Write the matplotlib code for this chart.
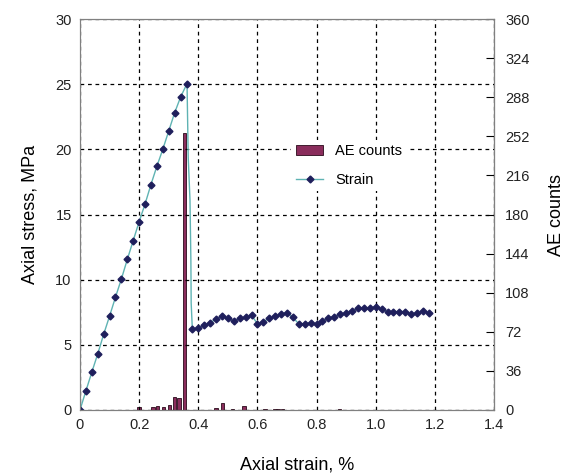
import matplotlib.pyplot as plt
import numpy as np

plt.rcParams['font.family'] = ['Liberation Sans', 'DejaVu Sans']

# stress-strain curve (markers)
strain_load = [0.0, 0.02, 0.04, 0.06, 0.08, 0.10, 0.12, 0.14, 0.16, 0.18,
               0.20, 0.22, 0.24, 0.26, 0.28, 0.30, 0.32, 0.34, 0.362]
stress_load = [0.0, 1.46, 2.9, 4.3, 5.8, 7.2, 8.65, 10.05, 11.55, 13.0,
               14.45, 15.8, 17.3, 18.7, 20.0, 21.4, 22.8, 24.0, 25.05]

# steep drop after the peak (line only, no markers)
strain_drop = [0.366, 0.372, 0.375, 0.376]
stress_drop = [19.4, 16.1, 11.5, 8.2]

strain_post = [0.38, 0.40, 0.42, 0.44, 0.46, 0.48, 0.50, 0.52, 0.54, 0.56,
               0.58, 0.60, 0.62, 0.64, 0.66, 0.68, 0.70, 0.72, 0.74, 0.76,
               0.78, 0.80, 0.82, 0.84, 0.86, 0.88, 0.90, 0.92, 0.94, 0.96,
               0.98, 1.00, 1.02, 1.04, 1.06, 1.08, 1.10, 1.12, 1.14, 1.16,
               1.18]
stress_post = [6.19, 6.27, 6.52, 6.7, 6.96, 7.21, 7.03, 6.83, 7.03, 7.11,
               7.29, 6.6, 6.78, 7.03, 7.21, 7.37, 7.47, 7.11, 6.6, 6.62,
               6.7, 6.57, 6.85, 7.07, 7.16, 7.34, 7.47, 7.62, 7.8, 7.8,
               7.8, 7.93, 7.73, 7.55, 7.55, 7.55, 7.55, 7.37, 7.45, 7.58,
               7.47]

# acoustic emission counts
ae_strain = [0.200, 0.246, 0.262, 0.282, 0.302, 0.319, 0.334, 0.353,
             0.460, 0.482, 0.515, 0.555, 0.626, 0.660, 0.670, 0.685, 0.877]
ae_counts = [3, 2.5, 3.7, 2.5, 4.6, 12.3, 10.8, 255,
             2, 6, 1, 3.7, 1, 1, 1, 1, 1]

strain_all = strain_load + strain_drop + strain_post
stress_all = stress_load + stress_drop + stress_post
n_load = len(strain_load)
n_drop = len(strain_drop)
mark_idx = list(range(n_load)) + list(range(n_load + n_drop, len(strain_all)))

fig = plt.figure(figsize=(5.66, 4.76), dpi=100)
ax1 = fig.add_axes([0.1413, 0.1387, 0.7315, 0.8213])
ax2 = ax1.twinx()

bars = ax2.bar(ae_strain, ae_counts, width=0.012, color='#8a2d5c',
               edgecolor='#2a0a1a', linewidth=0.6, label='AE counts')
line, = ax1.plot(strain_all, stress_all, color='#5fb3b3', lw=1.0,
                 marker='D', ms=3.5, mfc='#1f1f5c', mec='#1f1f5c',
                 markevery=mark_idx, label='Strain')

ax1.set_zorder(ax2.get_zorder() + 1)
ax1.patch.set_visible(False)

ax1.set_xlim(0, 1.4)
ax1.set_ylim(0, 30)
ax2.set_ylim(0, 360)
ax1.set_xticks(np.arange(0, 1.41, 0.2))
ax1.set_xticklabels(['0', '0.2', '0.4', '0.6', '0.8', '1.0', '1.2', '1.4'])
ax1.set_yticks(np.arange(0, 31, 5))
ax2.set_yticks(np.arange(0, 361, 36))

ax1.grid(True, color='black', linestyle=(0, (3, 3)), linewidth=0.9)

for ax in (ax1, ax2):
    for sp in ax.spines.values():
        sp.set_color('#808080')
ax2.spines['right'].set_color('#333333')

ax1.tick_params(axis='both', length=0, labelsize=10.5, labelcolor='#222222',
                pad=6)
ax2.tick_params(axis='y', direction='in', length=6, labelsize=10.5,
                labelcolor='#222222', pad=8)

ax1.set_xlabel('Axial strain, %', fontsize=13)
ax1.xaxis.set_label_coords(0.525, -0.118)
ax1.set_ylabel('Axial stress, MPa', fontsize=13, labelpad=12)
ax2.set_ylabel('AE counts', fontsize=13, labelpad=13)

leg = ax1.legend([bars, line], ['AE counts', 'Strain'], loc='upper left',
                 bbox_to_anchor=(0.493, 0.71), frameon=True, fontsize=10.5,
                 handlelength=1.9, labelspacing=1.0, borderpad=0.3,
                 fancybox=False)
leg.get_frame().set_facecolor('white')
leg.get_frame().set_edgecolor('none')
leg.get_frame().set_alpha(1)

fig.savefig('out.png', dpi=100)
